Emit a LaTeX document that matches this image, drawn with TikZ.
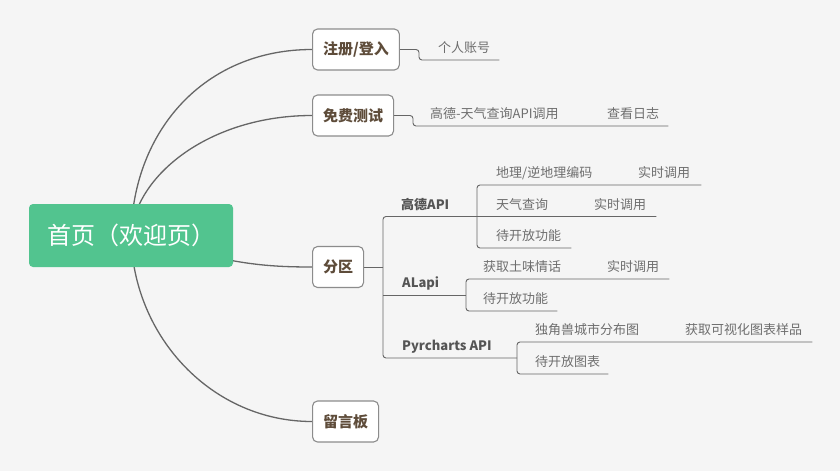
\documentclass[tikz,border=0pt]{standalone}
\usepackage{fontspec}
\setmainfont{Noto Sans CJK SC}
\definecolor{cbg}{RGB}{245,245,245}
\definecolor{croot}{RGB}{82,196,143}
\definecolor{cline}{RGB}{102,102,102}
\definecolor{cbox}{RGB}{140,140,140}
\definecolor{ctopic}{RGB}{94,76,58}
\definecolor{csub}{RGB}{85,85,85}
\definecolor{cleaf}{RGB}{110,110,110}
\pgfdeclarelayer{bg}
\pgfdeclarelayer{edges}
\pgfsetlayers{bg,edges,main}
\tikzset{
  rootbox/.style={fill=croot, text=white, rounded corners=4pt,
    minimum width=204pt, minimum height=63pt, font=\fontsize{24}{28}\selectfont},
  topic/.style={draw=cbox, line width=1.1pt, fill=white, rounded corners=5pt,
    minimum height=41pt, inner xsep=10.5pt, text=ctopic, anchor=west,
    font=\fontsize{15}{18}\selectfont\bfseries},
  subtopic/.style={inner sep=0pt, text height=11pt, text depth=7pt, text=csub,
    anchor=south west, font=\fontsize{13}{15}\selectfont\bfseries},
  leaf/.style={inner sep=0pt, text height=11pt, text depth=7pt, text=cleaf,
    anchor=south west, font=\fontsize{13}{15}\selectfont},
  curve/.style={draw=cline, line width=1.3pt},
  link/.style={draw=cline, line width=0.9pt, rounded corners=3pt},
}

\begin{document}
\begin{tikzpicture}[x=1pt, y=-1pt]
\begin{pgfonlayer}{bg}
\fill[cbg] (0,0) rectangle (840,471);
\end{pgfonlayer}
% root and main topics
\node[rootbox] (root) at (131,235.5) {首页（欢迎页）};
\node[topic] (reg) at (312,49.5) {注册/登入};
\node[topic] (test) at (312,115.5) {免费测试};
\node[topic] (zone) at (312,267) {分区};
\node[topic] (msg) at (312,421.5) {留言板};
% subtopics of 分区
\coordinate (zj) at (383,267);
\node[subtopic] (gd) at (401,216.5) {高德API};
\node[subtopic] (al) at (402,295) {ALapi};
\node[subtopic] (py) at (402,358) {Pyrcharts API};
\coordinate (gdb) at (477,216.5);
\coordinate (alb) at (466,295);
\coordinate (pyb) at (517,358);
% leaves
\node[leaf] (acc) at (438,60) {个人账号};
\node[leaf] (api) at (430,126) {高德-天气查询API调用};
\node[leaf] (log) at (607,126) {查看日志};
\node[leaf] (geo) at (496,185) {地理/逆地理编码};
\node[leaf] (gcall) at (638,185) {实时调用};
\node[leaf] (wq) at (496,216.5) {天气查询};
\node[leaf] (wcall) at (594,216.5) {实时调用};
\node[leaf] (open1) at (496,248) {待开放功能};
\node[leaf] (soil) at (483,279) {获取土味情话};
\node[leaf] (tcall) at (607,279) {实时调用};
\node[leaf] (open2) at (483,311) {待开放功能};
\node[leaf] (chart1) at (535,342) {独角兽城市分布图};
\node[leaf] (chart2) at (685,342) {获取可视化图表样品};
\node[leaf] (open3) at (535,374) {待开放图表};

\begin{pgfonlayer}{edges}
% curves from the root
\draw[curve] (root.center) .. controls (133,130) and (205,49.5) .. (reg.west);
\draw[curve] (root.center) .. controls (135,175) and (210,115.5) .. (test.west);
\draw[curve] (root.center) .. controls (225,262) and (255,267) .. (zone.west);
\draw[curve] (root.center) .. controls (133,338) and (213,421.5) .. (msg.west);
% branches
\draw[link] (reg.east) -| (419,60) -- ([xshift=9pt]acc.south east);
\draw[link] (test.east) -| (413,126) -- ([xshift=9pt]log.south east);
\draw[link] (zone.east) -- (zj);
\draw[link] (zj) |- ([xshift=10pt]wcall.south east);
\draw[link] (zj |- al.south) -- (alb);
\draw[link] (zj) |- (pyb);
\draw[link] ([xshift=11pt]gcall.south east) -| (gdb) |- ([xshift=10pt]open1.south east);
\draw[link] ([xshift=10pt]tcall.south east) -| (alb) |- ([xshift=9pt]open2.south east);
\draw[link] ([xshift=10pt]chart2.south east) -| (pyb) |- ([xshift=8pt]open3.south east);
\end{pgfonlayer}
\end{tikzpicture}
\end{document}
